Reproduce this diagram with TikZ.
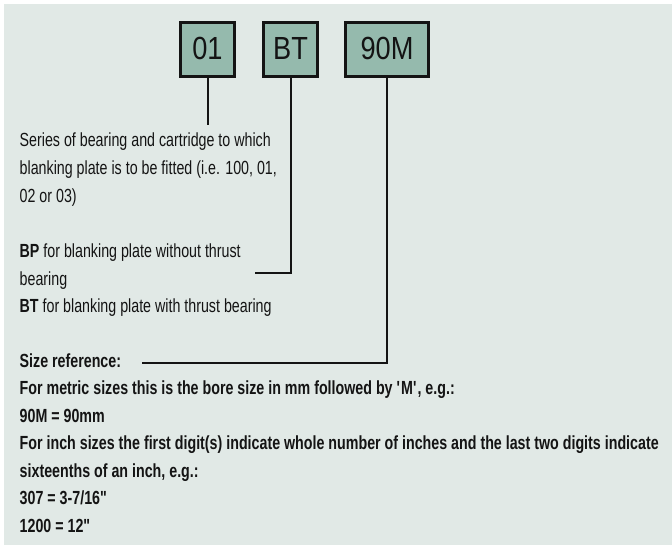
\documentclass[tikz,border=0pt]{standalone}
\usepackage{fontspec}
\setmainfont{Liberation Sans}[FakeStretch=0.75]
\newfontfamily\boxfont{Liberation Sans}[FakeStretch=0.85]
\definecolor{panel}{RGB}{225,233,230}
\definecolor{boxfill}{RGB}{149,186,173}
\definecolor{ink}{RGB}{20,20,20}
\begin{document}
\begin{tikzpicture}[x=1pt,y=-1pt,
  codebox/.style={draw=ink, line width=3pt, fill=boxfill, minimum height=54pt, inner sep=0pt,
    font=\boxfont\fontsize{32}{32}\selectfont, text=ink},
  desc/.style={anchor=base west, inner sep=0pt, font=\fontsize{19}{19}\selectfont, text=ink},
  descb/.style={desc, font=\fontsize{19}{19}\selectfont\bfseries},
  leader/.style={draw=ink, line width=2pt}]
\useasboundingbox (0,0) rectangle (672,549);
\fill[panel] (4,4) rectangle (672,545);
% code boxes
\node[codebox, minimum width=54pt] (b01) at (207.5,49.5) {\raisebox{2pt}{01}};
\node[codebox, minimum width=54pt] (bBT) at (290.5,49.5) {\raisebox{2pt}{BT}};
\node[codebox, minimum width=83pt] (b90) at (387,49.5) {\raisebox{2pt}{90M}};
% leader end points
\coordinate (e01) at (207.5,125);
\coordinate (eBT) at (255,273);
\coordinate (e90) at (142,363);
\draw[leader] (b01.south) -- (e01);
\draw[leader] (bBT.south) |- (eBT);
\draw[leader] (b90.south) |- (e90);
% upper text
\node[desc] (t1) at (19.5,146) {Series of bearing and cartridge to which};
\node[desc] (t2) at (19.5,174) {blanking plate is to be fitted (i.e. 100, 01,};
\node[desc] (t3) at (19.5,202) {02 or 03)};
\node[desc] (t4) at (19.5,257) {\textbf{BP} for blanking plate without thrust};
\node[desc] (t5) at (19.5,285) {bearing};
\node[desc] (t6) at (19.5,312) {\textbf{BT} for blanking plate with thrust bearing};
% lower text
\node[descb] (s1) at (19.5,367) {Size reference:};
\node[descb] (s2) at (19.5,394.5) {For metric sizes this is the bore size in mm followed by \textquotesingle M\textquotesingle, e.g.:};
\node[descb] (s3) at (19.5,422) {90M = 90mm};
\node[descb] (s4) at (19.5,449.5) {For inch sizes the first digit(s) indicate whole number of inches and the last two digits indicate};
\node[descb] (s5) at (19.5,477) {sixteenths of an inch, e.g.:};
\node[descb] (s6) at (19.5,504.5) {307 = 3-7/16\textquotedbl};
\node[descb] (s7) at (19.5,532) {1200 = 12\textquotedbl};
\end{tikzpicture}
\end{document}
